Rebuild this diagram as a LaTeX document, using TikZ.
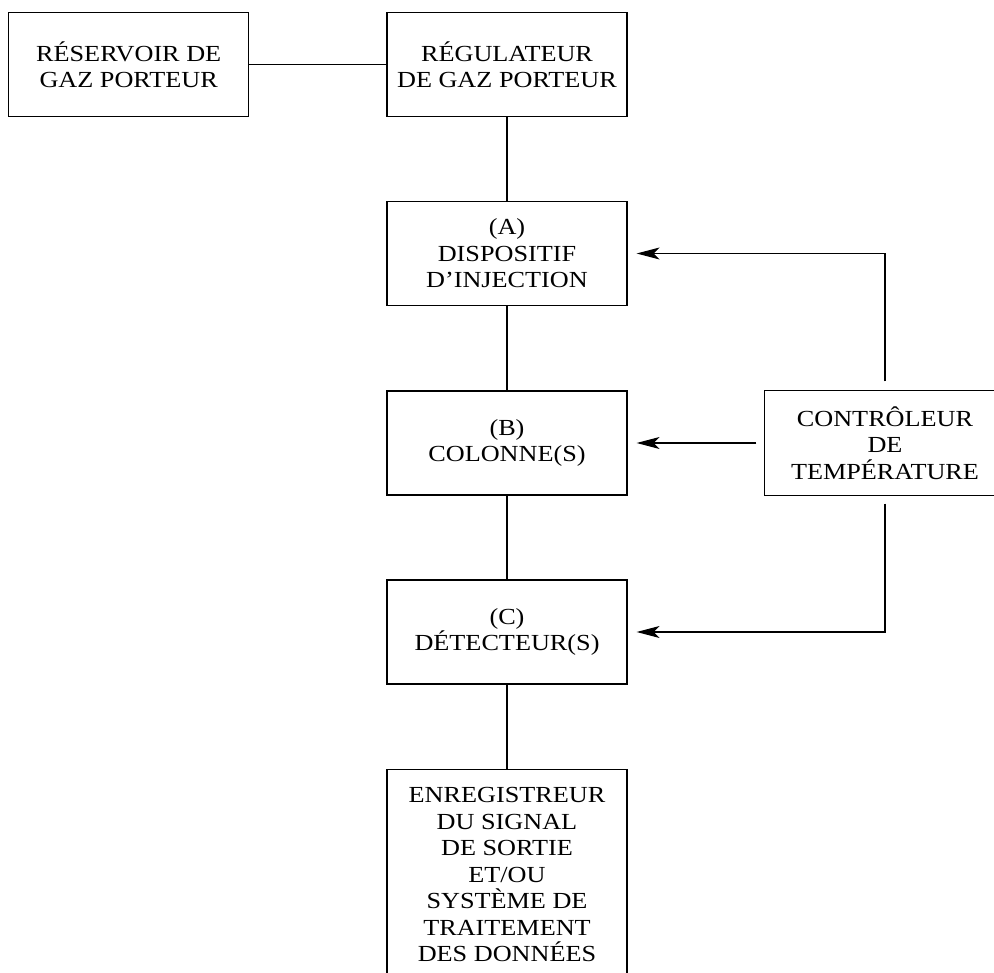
\documentclass[tikz,border=0pt]{standalone}
\usepackage{fontspec}
\setmainfont{Liberation Serif}[FakeStretch=1.14]
\usetikzlibrary{arrows.meta}
\begin{document}
\begin{tikzpicture}[x=1pt,y=-1pt,
  box/.style={draw, line width=1.2pt, rectangle, align=center, inner sep=0pt,
    minimum width=240pt, minimum height=104pt,
    font=\fontsize{23}{26.5}\selectfont},
  link/.style={line width=1.2pt},
  arr/.style={line width=1.2pt, -{Stealth[length=23pt, width=12pt, inset=6pt]}, shorten >=9pt}]
\useasboundingbox (0,0) rectangle (994,973);
\node[box] (res) at (128.7,64.6) {RÉSERVOIR DE\\GAZ PORTEUR};
\node[box] (reg) at (507,64.6) {RÉGULATEUR\\DE GAZ PORTEUR};
\node[box] (inj) at (507,253.5) {(A)\\DISPOSITIF\\D’INJECTION};
\node[box] (col) at (507,443) {(B)\\COLONNE(S)};
\node[box] (det) at (507,632) {(C)\\DÉTECTEUR(S)};
\node[box, draw=none] (ctrl) at (885,443) {CONTRÔLEUR\\DE\\TEMPÉRATURE};
\draw[link] (ctrl.south west) rectangle ([xshift=60pt]ctrl.north east);
\node[box, anchor=north, minimum height=0pt, inner ysep=18pt] (enr) at (507,769)
  {ENREGISTREUR\\DU SIGNAL\\DE SORTIE\\ET/OU\\SYSTÈME DE\\TRAITEMENT\\DES DONNÉES\\[6pt]};
\draw[link] (res) -- (reg);
\draw[link] (reg) -- (inj);
\draw[link] (inj) -- (col);
\draw[link] (col) -- (det);
\draw[link] (det) -- (enr);
\draw[arr] ([yshift=9pt]ctrl.north) |- (inj.east);
\draw[arr] ([xshift=-8pt]ctrl.west) -- (col.east);
\draw[arr] ([yshift=-8pt]ctrl.south) |- (det.east);
\end{tikzpicture}
\end{document}
